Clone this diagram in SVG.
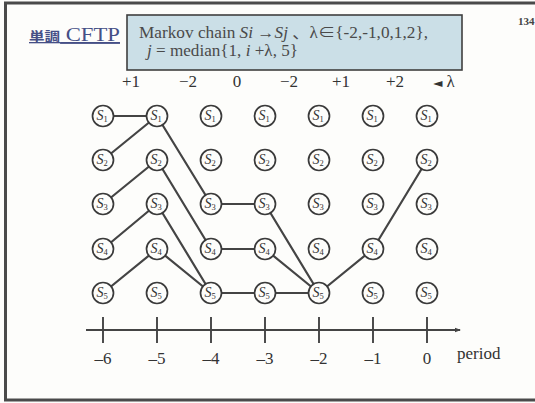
<svg xmlns="http://www.w3.org/2000/svg" width="535" height="403" viewBox="0 0 535 403">
<style>
.serif{font-family:"Liberation Serif","Noto Sans CJK JP",serif;}
.node circle{fill:#fdfdfb;stroke:#3a3a3a;stroke-width:1.7;}
.node text{font-family:"Liberation Serif",serif;font-style:italic;font-size:14px;fill:#333;text-anchor:middle;}
.node tspan{font-size:8.5px;font-style:normal;}
.edge{stroke:#444;stroke-width:2.2;fill:none;stroke-linecap:round;}
.lam{font-family:"Liberation Serif","DejaVu Sans",serif;font-size:17px;fill:#333;text-anchor:middle;}
.tick{font-family:"Liberation Serif",serif;font-size:17px;fill:#333;text-anchor:middle;}
.axis{stroke:#444;stroke-width:1.9;fill:none;}
</style>
<defs>
<marker id="ah" markerWidth="6" markerHeight="6" refX="5" refY="3" orient="auto" markerUnits="userSpaceOnUse">
<path d="M0,0.8 L6,3 L0,5.2 Z" fill="#444"/>
</marker>
</defs>
<rect x="0" y="0" width="535" height="403" fill="#fdfdfb"/>
<rect x="5.5" y="3" width="540" height="397" fill="none" stroke="#4a4a4a" stroke-width="3"/>

<g id="title">
<text x="29" y="41" class="serif" font-size="19" fill="#454f86" text-decoration="underline" textLength="91" lengthAdjust="spacingAndGlyphs"><tspan font-family="Noto Sans CJK JP,sans-serif" font-weight="bold" font-size="13">単調</tspan> CFTP</text>
</g>
<g id="page-number">
<text x="518" y="25" class="serif" font-size="11" font-weight="bold" fill="#444">134</text>
</g>

<g id="formula-box">
<rect x="127" y="15" width="335" height="55" fill="#cbdfe7" stroke="#3f3f3f" stroke-width="1.6"/>
<text x="139" y="38" class="serif" font-size="16" fill="#4a4a4a" textLength="289" lengthAdjust="spacingAndGlyphs">Markov chain <tspan font-style="italic">Si</tspan> →<tspan font-style="italic">Sj</tspan> 、λ∈{-2,-1,0,1,2},</text>
<text x="147" y="56" class="serif" font-size="16" fill="#4a4a4a" textLength="151" lengthAdjust="spacingAndGlyphs"><tspan font-style="italic">j</tspan> = median{1,  <tspan font-style="italic">i</tspan> +λ, 5}</text>
</g>

<g id="lambda-labels">
<text x="131" y="87" class="lam">+1</text>
<text x="188" y="87" class="lam">−2</text>
<text x="237" y="87" class="lam">0</text>
<text x="289" y="87" class="lam">−2</text>
<text x="341" y="87" class="lam">+1</text>
<text x="395" y="87" class="lam">+2</text>
<text x="444" y="87" class="lam"><tspan font-family="DejaVu Sans" font-size="12">◄</tspan> λ</text>
</g>

<g id="connectors">
<line class="edge" x1="103" y1="116" x2="157" y2="116"/>
<line class="edge" x1="103" y1="160" x2="157" y2="116"/>
<line class="edge" x1="103" y1="204" x2="157" y2="160"/>
<line class="edge" x1="103" y1="249" x2="157" y2="204"/>
<line class="edge" x1="103" y1="293" x2="157" y2="249"/>
<line class="edge" x1="157" y1="116" x2="211" y2="204"/>
<line class="edge" x1="157" y1="160" x2="211" y2="249"/>
<line class="edge" x1="157" y1="204" x2="211" y2="293"/>
<line class="edge" x1="157" y1="249" x2="211" y2="293"/>
<line class="edge" x1="211" y1="204" x2="265" y2="204"/>
<line class="edge" x1="211" y1="249" x2="265" y2="249"/>
<line class="edge" x1="211" y1="293" x2="265" y2="293"/>
<line class="edge" x1="265" y1="204" x2="319" y2="293"/>
<line class="edge" x1="265" y1="249" x2="319" y2="293"/>
<line class="edge" x1="265" y1="293" x2="319" y2="293"/>
<line class="edge" x1="319" y1="293" x2="373" y2="249"/>
<line class="edge" x1="373" y1="249" x2="427" y2="160"/>
</g>

<g id="nodes">
<g id="n-6-1" class="node" transform="translate(103,116)"><circle r="10.5"/><text x="-1" y="4">S<tspan dy="2">1</tspan></text></g>
<g id="n-6-2" class="node" transform="translate(103,160)"><circle r="10.5"/><text x="-1" y="4">S<tspan dy="2">2</tspan></text></g>
<g id="n-6-3" class="node" transform="translate(103,204)"><circle r="10.5"/><text x="-1" y="4">S<tspan dy="2">3</tspan></text></g>
<g id="n-6-4" class="node" transform="translate(103,249)"><circle r="10.5"/><text x="-1" y="4">S<tspan dy="2">4</tspan></text></g>
<g id="n-6-5" class="node" transform="translate(103,293)"><circle r="10.5"/><text x="-1" y="4">S<tspan dy="2">5</tspan></text></g>

<g id="n-5-1" class="node" transform="translate(157,116)"><circle r="10.5"/><text x="-1" y="4">S<tspan dy="2">1</tspan></text></g>
<g id="n-5-2" class="node" transform="translate(157,160)"><circle r="10.5"/><text x="-1" y="4">S<tspan dy="2">2</tspan></text></g>
<g id="n-5-3" class="node" transform="translate(157,204)"><circle r="10.5"/><text x="-1" y="4">S<tspan dy="2">3</tspan></text></g>
<g id="n-5-4" class="node" transform="translate(157,249)"><circle r="10.5"/><text x="-1" y="4">S<tspan dy="2">4</tspan></text></g>
<g id="n-5-5" class="node" transform="translate(157,293)"><circle r="10.5"/><text x="-1" y="4">S<tspan dy="2">5</tspan></text></g>

<g id="n-4-1" class="node" transform="translate(211,116)"><circle r="10.5"/><text x="-1" y="4">S<tspan dy="2">1</tspan></text></g>
<g id="n-4-2" class="node" transform="translate(211,160)"><circle r="10.5"/><text x="-1" y="4">S<tspan dy="2">2</tspan></text></g>
<g id="n-4-3" class="node" transform="translate(211,204)"><circle r="10.5"/><text x="-1" y="4">S<tspan dy="2">3</tspan></text></g>
<g id="n-4-4" class="node" transform="translate(211,249)"><circle r="10.5"/><text x="-1" y="4">S<tspan dy="2">4</tspan></text></g>
<g id="n-4-5" class="node" transform="translate(211,293)"><circle r="10.5"/><text x="-1" y="4">S<tspan dy="2">5</tspan></text></g>

<g id="n-3-1" class="node" transform="translate(265,116)"><circle r="10.5"/><text x="-1" y="4">S<tspan dy="2">1</tspan></text></g>
<g id="n-3-2" class="node" transform="translate(265,160)"><circle r="10.5"/><text x="-1" y="4">S<tspan dy="2">2</tspan></text></g>
<g id="n-3-3" class="node" transform="translate(265,204)"><circle r="10.5"/><text x="-1" y="4">S<tspan dy="2">3</tspan></text></g>
<g id="n-3-4" class="node" transform="translate(265,249)"><circle r="10.5"/><text x="-1" y="4">S<tspan dy="2">4</tspan></text></g>
<g id="n-3-5" class="node" transform="translate(265,293)"><circle r="10.5"/><text x="-1" y="4">S<tspan dy="2">5</tspan></text></g>

<g id="n-2-1" class="node" transform="translate(319,116)"><circle r="10.5"/><text x="-1" y="4">S<tspan dy="2">1</tspan></text></g>
<g id="n-2-2" class="node" transform="translate(319,160)"><circle r="10.5"/><text x="-1" y="4">S<tspan dy="2">2</tspan></text></g>
<g id="n-2-3" class="node" transform="translate(319,204)"><circle r="10.5"/><text x="-1" y="4">S<tspan dy="2">3</tspan></text></g>
<g id="n-2-4" class="node" transform="translate(319,249)"><circle r="10.5"/><text x="-1" y="4">S<tspan dy="2">4</tspan></text></g>
<g id="n-2-5" class="node" transform="translate(319,293)"><circle r="10.5"/><text x="-1" y="4">S<tspan dy="2">5</tspan></text></g>

<g id="n-1-1" class="node" transform="translate(373,116)"><circle r="10.5"/><text x="-1" y="4">S<tspan dy="2">1</tspan></text></g>
<g id="n-1-2" class="node" transform="translate(373,160)"><circle r="10.5"/><text x="-1" y="4">S<tspan dy="2">2</tspan></text></g>
<g id="n-1-3" class="node" transform="translate(373,204)"><circle r="10.5"/><text x="-1" y="4">S<tspan dy="2">3</tspan></text></g>
<g id="n-1-4" class="node" transform="translate(373,249)"><circle r="10.5"/><text x="-1" y="4">S<tspan dy="2">4</tspan></text></g>
<g id="n-1-5" class="node" transform="translate(373,293)"><circle r="10.5"/><text x="-1" y="4">S<tspan dy="2">5</tspan></text></g>

<g id="n-0-1" class="node" transform="translate(427,116)"><circle r="10.5"/><text x="-1" y="4">S<tspan dy="2">1</tspan></text></g>
<g id="n-0-2" class="node" transform="translate(427,160)"><circle r="10.5"/><text x="-1" y="4">S<tspan dy="2">2</tspan></text></g>
<g id="n-0-3" class="node" transform="translate(427,204)"><circle r="10.5"/><text x="-1" y="4">S<tspan dy="2">3</tspan></text></g>
<g id="n-0-4" class="node" transform="translate(427,249)"><circle r="10.5"/><text x="-1" y="4">S<tspan dy="2">4</tspan></text></g>
<g id="n-0-5" class="node" transform="translate(427,293)"><circle r="10.5"/><text x="-1" y="4">S<tspan dy="2">5</tspan></text></g>
</g>

<g id="time-axis">
<line class="axis" x1="86" y1="330" x2="460" y2="330" marker-end="url(#ah)"/>
<line class="axis" x1="103" y1="317" x2="103" y2="343"/>
<line class="axis" x1="157" y1="317" x2="157" y2="343"/>
<line class="axis" x1="211" y1="317" x2="211" y2="343"/>
<line class="axis" x1="265" y1="317" x2="265" y2="343"/>
<line class="axis" x1="319" y1="317" x2="319" y2="343"/>
<line class="axis" x1="373" y1="317" x2="373" y2="343"/>
<line class="axis" x1="427" y1="317" x2="427" y2="343"/>
<text x="103" y="364" class="tick">–6</text>
<text x="157" y="364" class="tick">–5</text>
<text x="211" y="364" class="tick">–4</text>
<text x="265" y="364" class="tick">–3</text>
<text x="319" y="364" class="tick">–2</text>
<text x="373" y="364" class="tick">–1</text>
<text x="427" y="364" class="tick">0</text>
<text x="457" y="359" class="serif" font-size="17" fill="#333">period</text>
</g>
</svg>
